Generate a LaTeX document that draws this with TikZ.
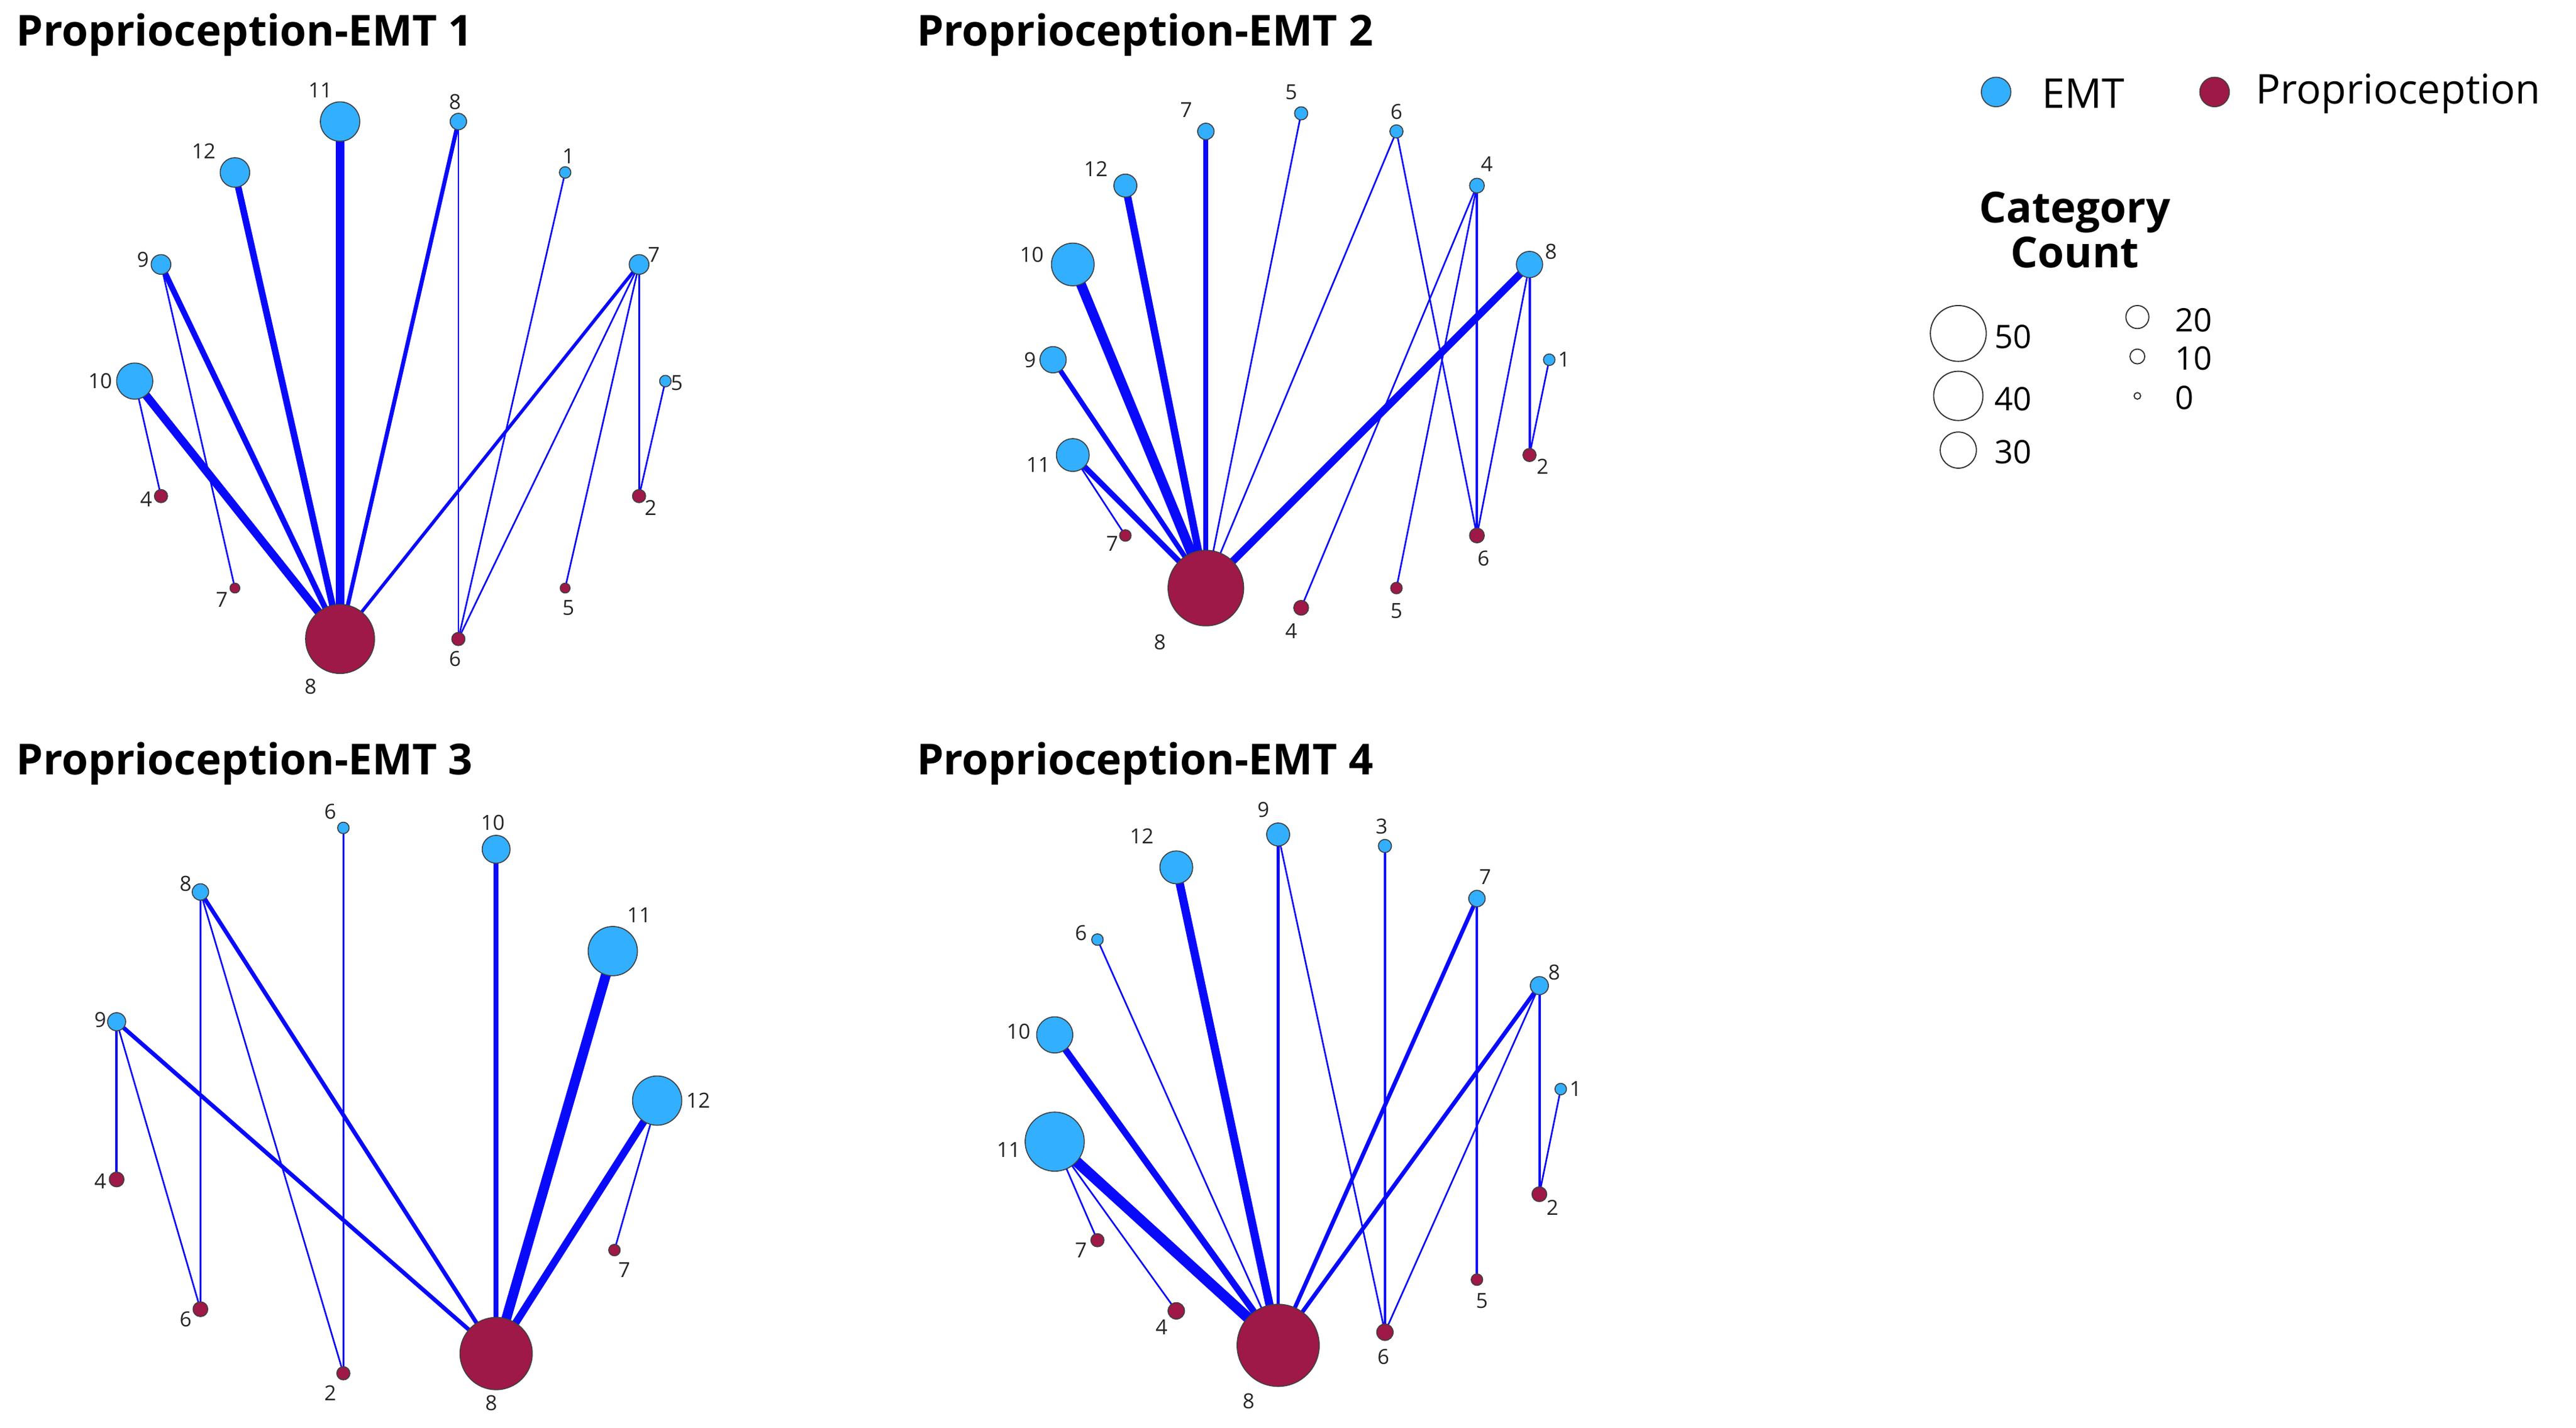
\documentclass[tikz,border=0pt]{standalone}
\usepackage{fontspec}
\setmainfont{Open Sans}
\usetikzlibrary{backgrounds}
\definecolor{emtc}{RGB}{51,175,255}
\definecolor{proc}{RGB}{158,24,72}
\definecolor{edgec}{RGB}{10,10,250}
\tikzset{
  emt/.style={circle,draw=black!75,line width=0.6mm,fill=emtc,inner sep=0pt},
  pro/.style={circle,draw=black!75,line width=0.6mm,fill=proc,inner sep=0pt},
  lab/.style={inner sep=0pt,font=\fontsize{36}{36}\selectfont,text=black!85},
  ttl/.style={inner sep=0pt,anchor=west,font=\fontsize{74}{74}\selectfont\bfseries},
  leg/.style={inner sep=0pt,anchor=west,font=\fontsize{71}{71}\selectfont},
  num/.style={inner sep=0pt,anchor=west,font=\fontsize{56}{56}\selectfont},
  lc/.style={circle,draw=black!80,line width=0.7mm,fill=white,inner sep=0pt},
  ed/.style={draw=edgec,line width=#1mm},
  ed/.default=1
}
\newcommand\nd[8]{\node[#2,minimum size=#5*2mm] (#1) at (#3,#4) {};\node[lab] (#1l) at (#7,#8) {#6};}
\begin{document}
\begin{tikzpicture}[x=1mm,y=-1mm]
\path[use as bounding box] (0,0) rectangle (1568,869);
% ---------------- Panel 1
\node[ttl] (t1) at (10,21) {Proprioception-EMT 1};
\nd{a11}{emt}{207}{74}{12}{11}{195}{55}
\nd{a8}{emt}{279}{74}{5}{8}{277}{62}
\nd{a12}{emt}{143}{105}{9}{12}{124}{92}
\nd{a1}{emt}{344}{105}{3.5}{1}{346}{95}
\nd{a9}{emt}{98}{161}{6}{9}{87}{158}
\nd{a7}{emt}{389}{161}{6}{7}{398}{155}
\nd{a10}{emt}{82}{232}{11}{10}{61}{232}
\nd{a5}{emt}{405}{232}{3.5}{5}{412}{233}
\nd{ap8}{pro}{207}{389}{21}{8}{189}{418}
\nd{ap4}{pro}{98}{302}{4}{4}{89}{304}
\nd{ap7}{pro}{143}{358}{3}{7}{135}{365}
\nd{ap6}{pro}{279}{389}{4}{6}{277}{401}
\nd{ap5}{pro}{344}{358}{3}{5}{346}{370}
\nd{ap2}{pro}{389}{302}{4}{2}{396}{309}
\begin{scope}[on background layer]
\draw[ed=5] (a11.center) -- (ap8.center);
\draw[ed=4] (a12.center) -- (ap8.center);
\draw[ed=3.5] (a9.center) -- (ap8.center);
\draw[ed=5] (a10.center) -- (ap8.center);
\draw[ed=2.5] (a8.center) -- (ap8.center);
\draw[ed=2] (a7.center) -- (ap8.center);
\draw[ed] (a8.center) -- (ap6.center);
\draw[ed] (a1.center) -- (ap6.center);
\draw[ed] (a7.center) -- (ap6.center);
\draw[ed] (a7.center) -- (ap5.center);
\draw[ed] (a7.center) -- (ap2.center);
\draw[ed] (a5.center) -- (ap2.center);
\draw[ed] (a10.center) -- (ap4.center);
\draw[ed] (a9.center) -- (ap7.center);
\end{scope}
% ---------------- Panel 2
\node[ttl] (t2) at (558,21) {Proprioception-EMT 2};
\nd{b7}{emt}{734}{80}{5}{7}{722}{67}
\nd{b5}{emt}{792}{69}{4}{5}{786}{56}
\nd{b6}{emt}{850}{80}{4}{6}{850}{68}
\nd{b12}{emt}{685}{113}{7}{12}{667}{103}
\nd{b4}{emt}{899}{113}{4.5}{4}{905}{100}
\nd{b10}{emt}{653}{161}{13}{10}{628}{155}
\nd{b8}{emt}{931}{161}{8}{8}{944}{153}
\nd{b9}{emt}{641}{219}{8}{9}{627}{219}
\nd{b1}{emt}{943}{219}{3.5}{1}{952}{219}
\nd{b11}{emt}{653}{277}{10}{11}{632}{283}
\nd{bp2}{pro}{931}{277}{4}{2}{939}{284}
\nd{bp7}{pro}{685}{326}{3.5}{7}{677}{331}
\nd{bp6}{pro}{899}{326}{4.5}{6}{903}{340}
\nd{bp8}{pro}{734}{358}{23}{8}{706}{391}
\nd{bp5}{pro}{850}{358}{3.5}{5}{850}{372}
\nd{bp4}{pro}{792}{370}{4.5}{4}{786}{384}
\begin{scope}[on background layer]
\draw[ed=3] (b7.center) -- (bp8.center);
\draw[ed] (b5.center) -- (bp8.center);
\draw[ed] (b6.center) -- (bp8.center);
\draw[ed=4.5] (b12.center) -- (bp8.center);
\draw[ed=6] (b10.center) -- (bp8.center);
\draw[ed=3] (b9.center) -- (bp8.center);
\draw[ed=3.5] (b11.center) -- (bp8.center);
\draw[ed=4.5] (b8.center) -- (bp8.center);
\draw[ed] (b6.center) -- (bp6.center);
\draw[ed=1.5] (b4.center) -- (bp6.center);
\draw[ed] (b4.center) -- (bp4.center);
\draw[ed] (b4.center) -- (bp5.center);
\draw[ed] (b8.center) -- (bp6.center);
\draw[ed=1.5] (b8.center) -- (bp2.center);
\draw[ed] (b1.center) -- (bp2.center);
\draw[ed] (b11.center) -- (bp7.center);
\end{scope}
% ---------------- Panel 3
\node[ttl] (t3) at (10,465) {Proprioception-EMT 3};
\nd{c6}{emt}{209}{504}{3.5}{6}{201}{494}
\nd{c10}{emt}{302}{517}{8.5}{10}{300}{501}
\nd{c8}{emt}{122}{543}{5}{8}{113}{538}
\nd{c11}{emt}{373}{579}{15}{11}{389}{557}
\nd{c9}{emt}{71}{622}{5.5}{9}{61}{621}
\nd{c12}{emt}{400}{670}{15}{12}{425}{670}
\nd{cp4}{pro}{71}{718}{4.5}{4}{61}{719}
\nd{cp7}{pro}{374}{761}{3.5}{7}{380}{773}
\nd{cp6}{pro}{122}{797}{4.5}{6}{113}{803}
\nd{cp2}{pro}{209}{836}{4}{2}{201}{848}
\nd{cp8}{pro}{302}{824}{22}{8}{299}{854}
\begin{scope}[on background layer]
\draw[ed=3] (c10.center) -- (cp8.center);
\draw[ed=6] (c11.center) -- (cp8.center);
\draw[ed=4.5] (c12.center) -- (cp8.center);
\draw[ed=2.5] (c9.center) -- (cp8.center);
\draw[ed=2.5] (c8.center) -- (cp8.center);
\draw[ed] (c12.center) -- (cp7.center);
\draw[ed=1.5] (c9.center) -- (cp4.center);
\draw[ed] (c9.center) -- (cp6.center);
\draw[ed] (c8.center) -- (cp6.center);
\draw[ed] (c8.center) -- (cp2.center);
\draw[ed] (c6.center) -- (cp2.center);
\end{scope}
% ---------------- Panel 4
\node[ttl] (t4) at (558,465) {Proprioception-EMT 4};
\nd{d9}{emt}{778}{508}{7}{9}{769}{493}
\nd{d3}{emt}{843}{515}{4}{3}{841}{503}
\nd{d12}{emt}{716}{528}{10}{12}{695}{509}
\nd{d7}{emt}{899}{547}{5}{7}{904}{534}
\nd{d6}{emt}{668}{572}{3.5}{6}{658}{568}
\nd{d8}{emt}{937}{600}{5.5}{8}{946}{592}
\nd{d10}{emt}{642}{630}{11}{10}{620}{628}
\nd{d1}{emt}{950}{663}{3.5}{1}{959}{663}
\nd{d11}{emt}{642}{695}{18}{11}{614}{700}
\nd{dp2}{pro}{937}{727}{4.5}{2}{945}{735}
\nd{dp7}{pro}{668}{755}{4}{7}{658}{761}
\nd{dp5}{pro}{899}{779}{3.5}{5}{902}{792}
\nd{dp4}{pro}{716}{798}{5}{4}{707}{808}
\nd{dp6}{pro}{843}{811}{5}{6}{842}{826}
\nd{dp8}{pro}{778}{819}{25}{8}{760}{853}
\begin{scope}[on background layer]
\draw[ed=5] (d12.center) -- (dp8.center);
\draw[ed=2] (d9.center) -- (dp8.center);
\draw[ed=4] (d10.center) -- (dp8.center);
\draw[ed=6.5] (d11.center) -- (dp8.center);
\draw[ed] (d6.center) -- (dp8.center);
\draw[ed=2.5] (d7.center) -- (dp8.center);
\draw[ed=2.5] (d8.center) -- (dp8.center);
\draw[ed] (d9.center) -- (dp6.center);
\draw[ed=1.5] (d3.center) -- (dp6.center);
\draw[ed] (d8.center) -- (dp6.center);
\draw[ed=1.5] (d7.center) -- (dp5.center);
\draw[ed=1.5] (d8.center) -- (dp2.center);
\draw[ed] (d1.center) -- (dp2.center);
\draw[ed] (d11.center) -- (dp7.center);
\draw[ed] (d11.center) -- (dp4.center);
\end{scope}
% ---------------- Legend
\node[emt,minimum size=18mm] (le) at (1215,56) {};
\node[leg] (let) at (1243,57) {EMT};
\node[pro,minimum size=18mm] (lp) at (1348,56) {};
\node[leg] (lpt) at (1373,57) {Proprioception};
\node[inner sep=0pt,align=center,font=\fontsize{74}{78}\selectfont\bfseries] (cc) at (1263,140) {Category\\Count};
\node[lc,minimum size=34mm] (s50) at (1192,203) {};
\node[num] (n50) at (1214,205) {50};
\node[lc,minimum size=30mm] (s40) at (1192,241) {};
\node[num] (n40) at (1214,243) {40};
\node[lc,minimum size=22mm] (s30) at (1192,274) {};
\node[num] (n30) at (1214,275) {30};
\node[lc,minimum size=14mm] (s20) at (1301,193) {};
\node[num] (n20) at (1324,195) {20};
\node[lc,minimum size=9mm] (s10) at (1301,217) {};
\node[num] (n10) at (1324,218) {10};
\node[lc,minimum size=4mm] (s0) at (1301,241) {};
\node[num] (n0) at (1324,242) {0};
\end{tikzpicture}
\end{document}
